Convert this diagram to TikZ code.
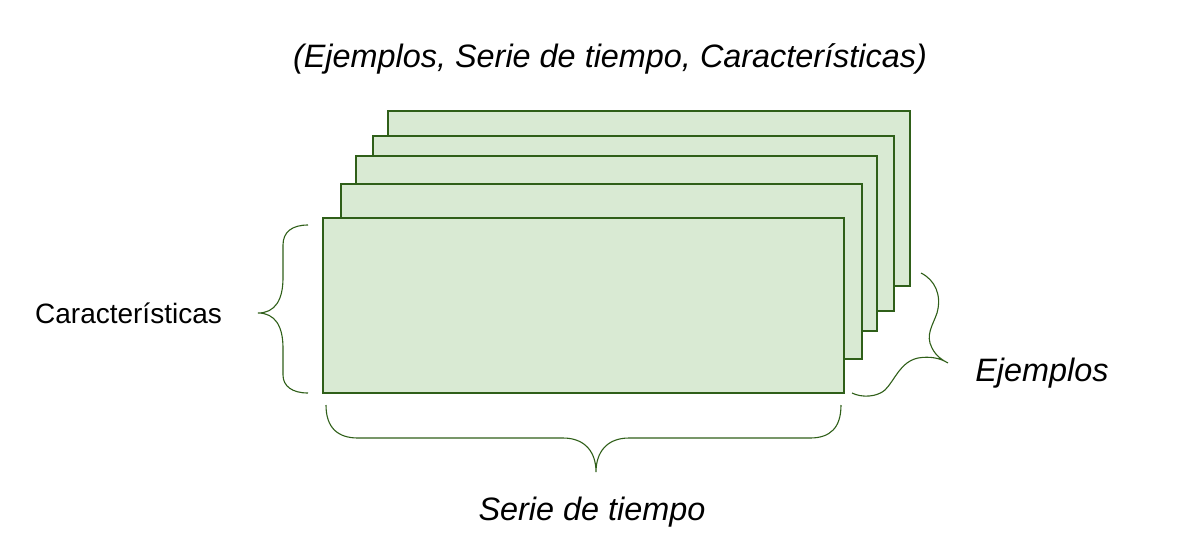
\documentclass[tikz,border=0pt]{standalone}
\usepackage{fontspec}
\setmainfont{Liberation Sans}
\definecolor{fillg}{HTML}{D9EAD3}
\definecolor{lineg}{HTML}{2F5F19}
\begin{document}
\begin{tikzpicture}[x=1pt,y=-1pt,
  sheet/.style={draw=lineg, fill=fillg, line width=1.2pt},
  bracepath/.style={draw=lineg, line width=1.1pt},
  lab/.style={anchor=base, inner sep=0pt, font=\fontsize{32.4}{38}\selectfont\itshape},
  labup/.style={anchor=base, inner sep=0pt, font=\fontsize{28}{33}\selectfont}]
\useasboundingbox (0,0) rectangle (1194,542);
% stacked sheets
\draw[sheet] (388,111) rectangle (910,286);
\draw[sheet] (373,136) rectangle (894,311);
\draw[sheet] (356,156) rectangle (877,331);
\draw[sheet] (341,184) rectangle (862,359);
\draw[sheet] (323,218) rectangle (844,393);
% left brace
\draw[bracepath] (308,225) .. controls (292,225) and (283,232) .. (283,245) -- (283,278)
  .. controls (283,300) and (275,313) .. (258,313)
  .. controls (275,313) and (283,326) .. (283,348) -- (283,375)
  .. controls (283,386) and (292,393) .. (308,393);
% bottom brace
\draw[bracepath] (326,405) .. controls (326,428) and (338,438) .. (358,438) -- (563,438)
  .. controls (585,438) and (596,452) .. (596,472)
  .. controls (596,452) and (607,438) .. (629,438) -- (810,438)
  .. controls (830,438) and (841,428) .. (841,405);
% bent brace (Ejemplos)
\draw[bracepath] (921,273) .. controls (935,280) and (942,295) .. (937,313)
  .. controls (933,325) and (925,335) .. (932,348)
  .. controls (936,356) and (942,360) .. (948,363)
  .. controls (940,358) and (930,356) .. (918,358)
  .. controls (900,362) and (895,380) .. (885,390)
  .. controls (877,397) and (862,398) .. (852,393);
% labels
\node[lab] (title) at (610,67) {(Ejemplos, Serie de tiempo, Características)};
\node[lab] (serie) at (592,520) {Serie de tiempo};
\node[lab] (ejem) at (1042,381) {Ejemplos};
\node[labup] (carac) at (128.5,323) {Características};
\end{tikzpicture}
\end{document}
